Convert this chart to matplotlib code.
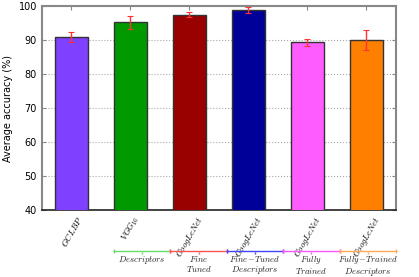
import matplotlib
matplotlib.use("Agg")
import matplotlib.pyplot as plt
import numpy as np

# data
methods = ["$GCLBP$", "$VGG_{16}$", "$GoogLeNet$", "$GoogLeNet$", "$GoogLeNet$", "$GoogLeNet$"]
accuracy = [90.8, 95.2, 97.5, 98.8, 89.3, 90.0]
errors = [1.5, 2.0, 0.8, 0.9, 1.0, 2.9]
bar_colors = ["#8040ff", "#009900", "#990000", "#000099", "#ff5cff", "#ff7f00"]

groups = ["$Descriptors$", "$Fine$\n$Tuned$", "$Fine\\!-\\!Tuned$\n$Descriptors$",
          "$Fully$\n$Trained$", "$Fully\\!-\\!Trained$\n$Descriptors$"]
group_colors = ["#66dd66", "#ff5555", "#4444ff", "#ff55ff", "#ffaa55"]

plt.rcParams["mathtext.fontset"] = "cm"

fig = plt.figure(figsize=(4.19, 2.77), dpi=100)
ax = fig.add_axes([0.100, 0.242, 0.845, 0.736])

x = np.arange(len(methods))
ax.bar(x, accuracy, width=0.55, color=bar_colors, edgecolor="#333333", linewidth=1.0, zorder=3)
ax.errorbar(x, accuracy, yerr=errors, fmt="none", ecolor="#ff3333", elinewidth=1.0,
            capsize=2.5, capthick=0.8, zorder=4)

ax.set_xlim(-0.5, len(methods) - 0.5)
ax.set_ylim(40, 100)
ax.set_yticks(np.arange(40, 101, 10))
ax.set_ylabel("Average accuracy (%)", fontsize=7)
ax.tick_params(axis="y", labelsize=7, direction="in", right=True, length=3, color="#888888")
ax.set_xticks(x)
ax.set_xticklabels(methods, rotation=60, ha="center", va="top", fontsize=6.3)
ax.tick_params(axis="x", direction="in", top=True, bottom=False, length=3,
               color="#888888", pad=3)
ax.grid(axis="y", linestyle=":", color="#aaaaaa", linewidth=0.8, zorder=0)

for side in ["left", "top", "right"]:
    ax.spines[side].set_color("#888888")
    ax.spines[side].set_linewidth(1.5)
ax.spines["bottom"].set_color("#222222")
ax.spines["bottom"].set_linewidth(1.2)

# coloured group brackets under the tick labels
trans = ax.get_xaxis_transform()
edges = np.linspace(0.72, 5.5, len(groups) + 1)
line_y = -0.202
for i, (label, col) in enumerate(zip(groups, group_colors)):
    x0, x1 = edges[i], edges[i + 1]
    xm = (x0 + x1) / 2
    ax.plot([x0, x1], [line_y, line_y], color=col, lw=1.0, transform=trans, clip_on=False)
    ax.plot([x0, x1], [line_y, line_y], ls="none", marker="|", ms=3, color=col,
            transform=trans, clip_on=False)
    ax.plot([xm], [line_y - 0.008], ls="none", marker="|", ms=2, color=col,
            transform=trans, clip_on=False)
    ax.text(xm, line_y - 0.014, label, transform=trans, ha="center", va="top",
            fontsize=6.3, linespacing=1.0, color="#222222")

fig.savefig("out.png", dpi=100)
